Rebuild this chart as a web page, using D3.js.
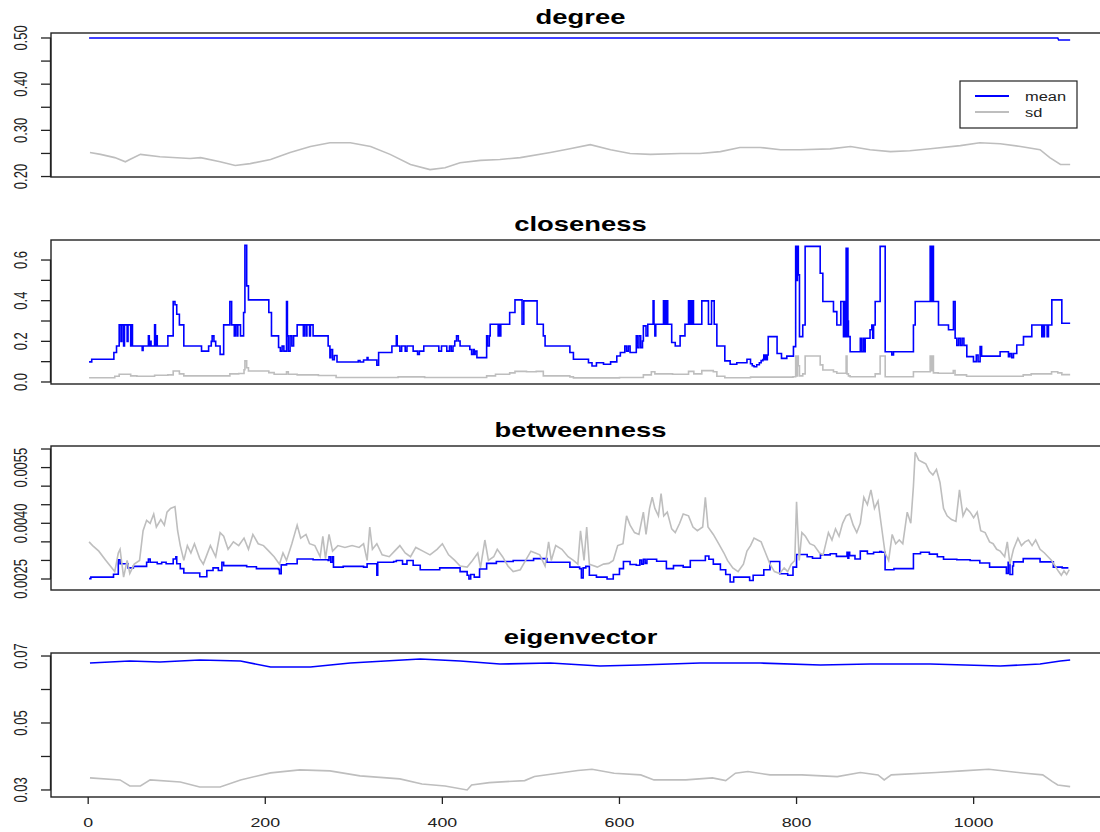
<!DOCTYPE html>
<html>
<head>
<meta charset="utf-8">
<script src="https://cdn.jsdelivr.net/npm/d3@7"></script>
<style>
  body { margin: 0; background: #fff; }
  svg { display: block; font-family: "Liberation Sans", Arial, sans-serif; }
</style>
</head>
<body>
<svg id="chart" width="1100" height="832"></svg>
<script>
// series as [index, value] pairs
const degreeMean = [[1,0.5],[1095,0.5],[1096,0.4955],[1109,0.4955]];
const degreeSd = [[2,0.252],[14,0.248],[30,0.241],[42,0.232],[47,0.237],[59,0.248],[81,0.243],[115,0.239],[127,0.241],[149,0.232],[166,0.224],[183,0.228],[206,0.237],[228,0.252],[251,0.265],[273,0.273],[296,0.273],[319,0.265],[341,0.248],[364,0.226],[386,0.215],[403,0.219],[420,0.230],[443,0.235],[465,0.237],[488,0.241],[522,0.252],[544,0.260],[567,0.269],[590,0.258],[612,0.250],[635,0.248],[669,0.250],[691,0.250],[714,0.254],[736,0.263],[759,0.263],[782,0.258],[804,0.258],[838,0.260],[861,0.265],[883,0.258],[906,0.254],[928,0.256],[951,0.260],[985,0.267],[1007,0.273],[1030,0.271],[1053,0.265],[1075,0.258],[1086,0.241],[1098,0.226],[1109,0.226]];

const closenessMean = [[1,0.099],[4,0.112],[29,0.145],[32,0.177],[35,0.281],[37,0.2],[38,0.281],[40,0.177],[41,0.281],[44,0.2],[45,0.281],[48,0.177],[49,0.281],[50,0.177],[61,0.155],[62,0.177],[68,0.227],[69,0.177],[70,0.2],[71,0.177],[75,0.281],[76,0.177],[77,0.227],[78,0.177],[90,0.227],[96,0.396],[98,0.38],[100,0.333],[103,0.281],[108,0.177],[128,0.152],[136,0.177],[139,0.2],[140,0.227],[142,0.2],[144,0.177],[149,0.136],[153,0.281],[160,0.396],[162,0.281],[165,0.227],[166,0.281],[168,0.227],[169,0.281],[172,0.227],[175.5,0.342],[177,0.673],[179,0.473],[181,0.404],[204,0.342],[207,0.227],[215,0.17],[217,0.152],[219,0.177],[221,0.152],[224,0.396],[225,0.227],[226,0.152],[228,0.227],[230,0.177],[232,0.227],[236,0.281],[243,0.227],[244,0.281],[246,0.227],[247,0.281],[250,0.227],[251,0.281],[254,0.227],[271,0.177],[273,0.12],[274,0.16],[276,0.11],[278,0.13],[281,0.0985],[305,0.105],[307,0.0985],[311,0.108],[315,0.12],[316,0.108],[326,0.082],[328,0.145],[343,0.177],[348,0.227],[349,0.177],[352,0.152],[354,0.177],[358,0.152],[360,0.177],[367,0.152],[372,0.136],[374,0.152],[379,0.177],[396,0.152],[399,0.177],[405,0.152],[408,0.177],[410,0.152],[412,0.177],[414,0.202],[416,0.227],[418,0.202],[420,0.177],[431,0.16],[433,0.136],[435,0.16],[436,0.136],[437,0.152],[439,0.12],[450,0.227],[451,0.177],[453,0.227],[454,0.284],[463,0.227],[464,0.284],[465,0.227],[466,0.284],[476,0.342],[482,0.404],[490,0.284],[492,0.399],[507,0.284],[514,0.227],[516,0.177],[544,0.145],[548,0.112],[565,0.095],[569,0.079],[574,0.095],[582,0.087],[590,0.099],[597,0.128],[601,0.145],[606,0.177],[608,0.152],[610,0.177],[612,0.145],[619,0.227],[620,0.169],[622,0.227],[624,0.169],[626,0.202],[627,0.276],[630,0.227],[632,0.284],[638,0.399],[639,0.284],[640,0.227],[641,0.284],[649.7,0.399],[650.5,0.284],[651.5,0.399],[652.5,0.284],[653.5,0.399],[654.5,0.284],[659,0.194],[663,0.177],[668.5,0.227],[674,0.284],[678,0.399],[679,0.284],[680,0.399],[681,0.284],[682,0.399],[683.6,0.284],[693,0.399],[700.5,0.284],[704,0.399],[707,0.284],[710,0.177],[719,0.104],[725,0.087],[732.5,0.095],[744,0.112],[748,0.09],[750,0.08],[752,0.075],[755,0.085],[758,0.095],[760,0.105],[762,0.11],[763,0.133],[764,0.11],[765,0.133],[766,0.11],[767,0.133],[768,0.223],[778,0.14],[783,0.116],[789,0.127],[796.5,0.174],[799,0.667],[800,0.5],[801,0.667],[802,0.527],[803.3,0.223],[807,0.28],[809.7,0.667],[826.7,0.535],[829.7,0.396],[841.7,0.346],[845.5,0.28],[850,0.396],[853,0.223],[854,0.396],[855,0.223],[856,0.658],[857,0.223],[857.5,0.658],[858,0.3],[858.6,0.223],[860.5,0.149],[872,0.215],[873,0.149],[875,0.215],[876,0.149],[877.5,0.215],[883,0.257],[885,0.28],[886,0.215],[887,0.28],[888.8,0.396],[894.4,0.667],[900.1,0.149],[907.6,0.133],[909.5,0.149],[932,0.28],[934,0.396],[950.9,0.667],[951.5,0.396],[952.2,0.667],[953,0.396],[953.8,0.667],[954.6,0.396],[960.3,0.28],[971.6,0.257],[977.2,0.396],[979.1,0.215],[981,0.18],[983,0.215],[985,0.18],[987,0.215],[989,0.18],[992.3,0.125],[999.8,0.1],[1003,0.133],[1005,0.1],[1007.3,0.174],[1009,0.127],[1029.9,0.149],[1039.3,0.125],[1041,0.14],[1043,0.12],[1045,0.14],[1048.7,0.182],[1056.3,0.223],[1065.7,0.28],[1077,0.223],[1078,0.28],[1079,0.223],[1080,0.28],[1083,0.223],[1084.5,0.28],[1088.3,0.404],[1099.6,0.289],[1109,0.289]];
const closenessSd = [[1,0.021],[30,0.028],[35,0.038],[48,0.03],[55,0.028],[75,0.033],[90,0.035],[96,0.054],[103,0.04],[108,0.03],[150,0.03],[160,0.04],[170,0.042],[176,0.06],[177,0.104],[179,0.07],[181,0.054],[204,0.046],[210,0.038],[224,0.05],[226,0.038],[236,0.035],[260,0.032],[280,0.022],[350,0.025],[380,0.022],[450,0.03],[460,0.038],[476,0.045],[482,0.052],[495,0.05],[506,0.052],[514,0.03],[544,0.025],[548,0.02],[600,0.022],[627,0.035],[636,0.05],[640,0.04],[660,0.038],[678,0.052],[684,0.04],[693,0.056],[706,0.05],[710,0.028],[719,0.021],[748,0.024],[796,0.026],[799,0.128],[800,0.03],[801,0.128],[802,0.08],[803.3,0.03],[807,0.04],[809.7,0.128],[826.7,0.084],[829.7,0.059],[841.7,0.05],[845.5,0.043],[856,0.128],[857,0.04],[858.6,0.03],[860.5,0.026],[888.8,0.04],[894.4,0.128],[900.1,0.026],[932,0.05],[950.9,0.128],[951.5,0.056],[953,0.128],[954.6,0.045],[960,0.043],[977,0.056],[979,0.035],[992,0.028],[1056,0.035],[1065,0.04],[1077,0.04],[1088,0.05],[1095,0.045],[1099.6,0.036],[1109,0.036]];

const betweennessMean = [[1,0.00251],[3,0.00255],[28.6,0.00263],[34,0.00302],[36,0.00291],[45,0.0028],[51,0.00284],[66,0.00295],[68,0.00304],[70,0.00295],[78,0.00291],[83,0.00295],[88,0.00291],[96,0.00304],[99,0.0031],[100,0.00291],[104,0.00278],[108,0.00266],[126,0.00256],[134,0.00273],[141,0.0028],[147,0.00273],[151,0.00295],[153,0.00286],[179,0.00283],[190,0.00278],[215,0.00276],[216,0.00264],[218,0.00288],[224,0.00291],[236,0.00304],[254,0.00302],[271,0.003],[272,0.0031],[274,0.00295],[276,0.0031],[277,0.00282],[288,0.00284],[311,0.00282],[315,0.00291],[326,0.0026],[327,0.00295],[345,0.00297],[348,0.003],[355,0.0029],[360,0.003],[367,0.00287],[375,0.00275],[397,0.0028],[420,0.0027],[428,0.0026],[430,0.0025],[432,0.00262],[436,0.00255],[442,0.00277],[450,0.00292],[461,0.00297],[480,0.003],[503,0.00305],[518,0.00295],[544,0.00282],[555,0.00278],[557,0.00253],[559,0.0028],[562,0.00284],[566,0.0026],[574,0.00255],[586,0.0025],[593,0.00262],[600,0.00278],[604.5,0.00297],[612,0.00289],[619,0.00287],[623,0.00301],[625,0.0029],[627,0.00303],[629,0.00292],[631,0.00303],[642,0.00298],[653,0.00278],[661,0.00286],[672,0.00282],[680,0.003],[695,0.003],[697,0.00312],[701,0.00303],[706,0.0029],[714,0.00275],[720,0.00262],[725,0.00242],[729,0.00255],[747,0.00246],[751,0.0026],[763,0.00275],[770,0.00297],[781,0.00264],[790,0.0026],[796,0.00282],[800,0.00316],[812,0.0031],[818,0.00306],[827,0.00315],[838,0.00318],[845,0.00311],[857,0.00322],[858,0.00306],[859,0.00322],[860,0.00313],[866,0.00304],[872,0.00325],[880,0.00318],[887,0.00322],[894,0.00324],[896,0.00322],[900,0.00275],[910,0.00278],[932,0.00318],[940,0.00322],[950,0.00317],[959,0.0031],[966,0.00303],[981,0.00302],[996,0.003],[1007,0.00293],[1018,0.00282],[1037,0.00265],[1039,0.00295],[1041,0.00262],[1044,0.00285],[1045,0.00296],[1056,0.00305],[1075,0.00296],[1090,0.00282],[1100,0.0028],[1107,0.0028]];
const betweennessSd = [[1,0.0035],[5,0.0034],[12,0.00325],[20,0.003],[25,0.00285],[30,0.0027],[34,0.0032],[36,0.0033],[40,0.00255],[44,0.003],[47,0.00265],[52,0.0029],[58,0.003],[62,0.0038],[66,0.00408],[70,0.004],[74,0.00425],[77,0.0039],[82,0.0041],[86,0.00395],[89,0.0043],[93,0.0044],[98,0.00445],[101,0.0038],[104,0.0034],[108,0.003],[112,0.0034],[116,0.0032],[120,0.00345],[126,0.00305],[130,0.0029],[134,0.00315],[138,0.0034],[144,0.0031],[149,0.00375],[153,0.00365],[158,0.0033],[164,0.0035],[170,0.0034],[176,0.0036],[181,0.0033],[186,0.0037],[192,0.00345],[198,0.0034],[204,0.00325],[210,0.0031],[216,0.0029],[220,0.0032],[224,0.003],[230,0.00345],[236,0.00395],[240,0.0036],[246,0.0037],[250,0.00345],[256,0.0034],[262,0.0031],[265,0.00365],[268,0.00305],[272,0.0037],[276,0.00325],[282,0.0034],[290,0.00335],[298,0.0034],[306,0.00335],[311,0.00345],[315,0.003],[318,0.0039],[321,0.0033],[326,0.00345],[332,0.00315],[340,0.0031],[346,0.00325],[352,0.0034],[358,0.0032],[364,0.0031],[370,0.00335],[378,0.00325],[386,0.00315],[394,0.0033],[400,0.00345],[407,0.00315],[414,0.003],[420,0.00285],[428,0.00282],[434,0.003],[440,0.0032],[443,0.0028],[448,0.00355],[452,0.003],[458,0.0031],[462,0.0033],[468,0.0031],[474,0.00285],[480,0.0027],[488,0.00275],[494,0.003],[500,0.00325],[505,0.0032],[510,0.00315],[516,0.00285],[520,0.0035],[523,0.003],[528,0.0034],[535,0.0033],[542,0.0031],[548,0.003],[553,0.0029],[556,0.0038],[560,0.003],[563,0.0039],[566,0.0029],[575,0.00282],[582,0.0029],[588,0.00292],[593,0.003],[598,0.0034],[604,0.00345],[608,0.0042],[612,0.00395],[617,0.00375],[622,0.0037],[627,0.0043],[630,0.0037],[634,0.0044],[637,0.0047],[640,0.0044],[644,0.0042],[647,0.0048],[650,0.0042],[654,0.0043],[659,0.00385],[663,0.00375],[668,0.004],[672,0.00425],[678,0.0042],[683,0.0039],[688,0.0038],[694,0.0039],[697,0.0047],[700,0.0039],[706,0.0037],[712,0.00345],[718,0.0032],[722,0.003],[728,0.0028],[734,0.0027],[740,0.0029],[744,0.00325],[748,0.0034],[752,0.0036],[756,0.00355],[760,0.0035],[765,0.0032],[770,0.0029],[775,0.0027],[781,0.00265],[786,0.0028],[790,0.0027],[794,0.0029],[798,0.003],[800,0.00458],[803,0.003],[806,0.00375],[810,0.00365],[815,0.00345],[820,0.0034],[826,0.0032],[830,0.00315],[836,0.00375],[840,0.00355],[844,0.00385],[848,0.00365],[852,0.004],[856,0.0042],[860,0.00425],[864,0.00395],[868,0.00375],[872,0.004],[876,0.0047],[880,0.0045],[884,0.0049],[888,0.0044],[892,0.0046],[896,0.0039],[900,0.0032],[904,0.003],[908,0.0037],[912,0.00345],[916,0.00355],[920,0.00345],[925,0.0043],[929,0.004],[932,0.005],[934,0.00591],[938,0.0057],[942,0.00565],[946,0.0056],[950,0.0054],[954,0.0053],[958,0.00545],[962,0.0051],[966,0.0044],[970,0.0042],[975,0.0041],[980,0.00405],[984,0.0049],[988,0.0042],[992,0.0044],[996,0.0043],[1000,0.00415],[1004,0.0043],[1008,0.0038],[1013,0.00375],[1018,0.0035],[1022,0.00345],[1026,0.0033],[1030,0.00325],[1035,0.0031],[1038,0.0035],[1041,0.0029],[1045,0.0033],[1050,0.0036],[1054,0.0034],[1058,0.0035],[1062,0.00355],[1066,0.0034],[1070,0.00355],[1075,0.0033],[1080,0.0032],[1084,0.0031],[1088,0.003],[1092,0.00285],[1096,0.0027],[1099,0.0026],[1102,0.00272],[1105,0.00262],[1108,0.00275]];

const eigenMean = [[2,0.0679],[47,0.0685],[81,0.0682],[126,0.0688],[172,0.0685],[206,0.0667],[251,0.0667],[296,0.0679],[375,0.0691],[420,0.0685],[465,0.0676],[522,0.0679],[578,0.067],[623,0.0673],[691,0.0679],[759,0.0679],[827,0.0673],[883,0.0676],[951,0.0676],[1030,0.067],[1075,0.0676],[1098,0.0685],[1109,0.0688]];
const eigenSd = [[2,0.0336],[36,0.033],[47,0.0312],[59,0.0312],[70,0.033],[104,0.0324],[126,0.0309],[149,0.0309],[172,0.033],[206,0.0351],[239,0.036],[273,0.0357],[307,0.0342],[352,0.0333],[377,0.0318],[403,0.0312],[428,0.03],[433,0.0315],[453,0.0322],[493,0.0328],[504,0.034],[553,0.0358],[569,0.0362],[594,0.035],[624,0.0345],[639,0.033],[675,0.033],[705,0.0336],[720,0.0328],[731,0.035],[745,0.0355],[770,0.0345],[806,0.0345],[846,0.034],[872,0.0352],[892,0.0345],[899,0.033],[907,0.0345],[958,0.0352],[987,0.0357],[1017,0.0362],[1058,0.035],[1078,0.0345],[1089,0.0325],[1095,0.0315],[1109,0.031]];

const xTicks = [0, 200, 400, 600, 800, 1000];
const legendLabels = ['mean', 'sd'];

const panels = [
  {title: 'degree', mean: degreeMean, sd: degreeSd, domain: [0.199, 0.5108],
   ticks: [0.20, 0.25, 0.30, 0.35, 0.40, 0.45, 0.50], labels: [0.20, 0.30, 0.40, 0.50], fmt: '.2f', step: false},
  {title: 'closeness', mean: closenessMean, sd: closenessSd, domain: [-0.0099, 0.6985],
   ticks: [0, 0.1, 0.2, 0.3, 0.4, 0.5, 0.6], labels: [0, 0.2, 0.4, 0.6], fmt: '.1f', step: true},
  {title: 'betweenness', mean: betweennessMean, sd: betweennessSd, domain: [0.002204, 0.006081],
   ticks: [0.0025, 0.0030, 0.0035, 0.0040, 0.0045, 0.0050, 0.0055, 0.0060], labels: [0.0025, 0.0040, 0.0055], fmt: '.4f', step: 'mean'},
  {title: 'eigenvector', mean: eigenMean, sd: eigenSd, domain: [0.0279, 0.0709],
   ticks: [0.03, 0.04, 0.05, 0.06, 0.07], labels: [0.03, 0.05, 0.07], fmt: '.2f', step: false}
];

const colors = {mean: '#0000ff', sd: '#bebebe'};
const stretch = 1.37;   // the reference is widened, glyphs included
const plot = {left: 51, right: 1110, height: 144, tops: [33, 240, 446, 653]};

const svg = d3.select('#chart');
const x = d3.scaleLinear().domain([-42, 1154]).range([plot.left, plot.right]);

function stretchedText(g, tx, ty, str, extra) {
  return g.append('text')
    .attr('transform', `translate(${tx},${ty}) scale(${stretch},1)` + (extra || ''))
    .text(str);
}

panels.forEach((p, i) => {
  const top = plot.tops[i];
  const bottom = top + plot.height;
  const y = d3.scaleLinear().domain(p.domain).range([bottom, top]);
  const g = svg.append('g').attr('class', 'panel');

  const line = (curve) => d3.line().x(d => x(d[0])).y(d => y(d[1])).curve(curve);
  const sdCurve = p.step === true ? d3.curveStepAfter : d3.curveLinear;
  const meanCurve = p.step ? d3.curveStepAfter : d3.curveLinear;

  g.append('path').datum(p.mean)
    .attr('fill', 'none').attr('stroke', colors.mean).attr('stroke-width', 1.6)
    .attr('d', line(meanCurve));
  g.append('path').datum(p.sd)
    .attr('fill', 'none').attr('stroke', colors.sd).attr('stroke-width', 1.6)
    .attr('d', line(sdCurve));

  g.append('rect')
    .attr('x', plot.left).attr('y', top)
    .attr('width', plot.right - plot.left).attr('height', plot.height)
    .attr('fill', 'none').attr('stroke', '#222').attr('stroke-width', 1.4);

  // y axis, R style: ticks outward, labels parallel to the axis
  const ya = g.append('g');
  ya.selectAll('line').data(p.ticks).join('line')
    .attr('x1', plot.left).attr('x2', plot.left - 10)
    .attr('y1', d => y(d)).attr('y2', d => y(d))
    .attr('stroke', '#222').attr('stroke-width', 1.3);
  ya.append('line')
    .attr('x1', plot.left - 0.5).attr('x2', plot.left - 0.5)
    .attr('y1', y(p.ticks[0])).attr('y2', y(p.ticks[p.ticks.length - 1]))
    .attr('stroke', '#222').attr('stroke-width', 1.3);
  const f = d3.format(p.fmt);
  p.labels.forEach(v => {
    stretchedText(ya, 27, y(v), f(v), ' rotate(-90)')
      .attr('text-anchor', 'middle').attr('font-size', 13).attr('fill', '#222');
  });

  stretchedText(g, (plot.left + plot.right) / 2, top - 9, p.title)
    .attr('text-anchor', 'middle').attr('font-size', 20).attr('font-weight', 'bold');

  if (i === panels.length - 1) {
    const xa = g.append('g');
    xa.selectAll('line').data(xTicks).join('line')
      .attr('x1', d => x(d)).attr('x2', d => x(d))
      .attr('y1', bottom).attr('y2', bottom + 7)
      .attr('stroke', '#222').attr('stroke-width', 1.3);
    xTicks.forEach(v => {
      stretchedText(xa, x(v), bottom + 30, v)
        .attr('text-anchor', 'middle').attr('font-size', 13).attr('fill', '#222');
    });
  }

  if (i === 0) {
    const lg = g.append('g');
    lg.append('rect').attr('x', 960).attr('y', 81).attr('width', 117).attr('height', 47)
      .attr('fill', '#fff').attr('stroke', '#222').attr('stroke-width', 1.2);
    legendLabels.forEach((lab, k) => {
      const ly = 96 + k * 16;
      lg.append('line').attr('x1', 975).attr('x2', 1009).attr('y1', ly).attr('y2', ly)
        .attr('stroke', k === 0 ? colors.mean : colors.sd).attr('stroke-width', 2);
      stretchedText(lg, 1025, ly + 5, lab).attr('font-size', 12).attr('fill', '#222');
    });
  }
});
</script>
</body>
</html>
